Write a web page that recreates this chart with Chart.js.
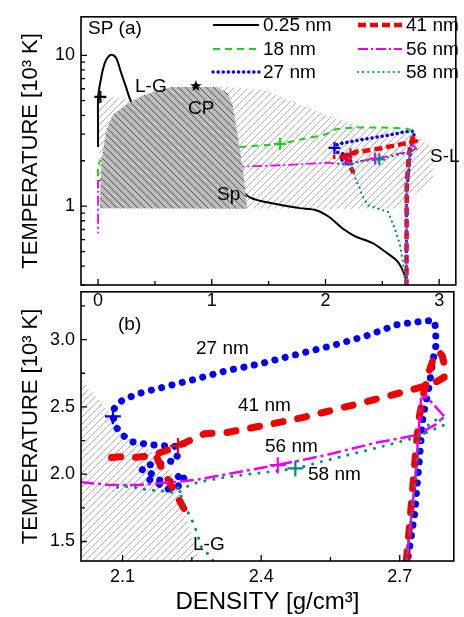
<!DOCTYPE html>
<html>
<head>
<meta charset="utf-8">
<script src="https://cdn.jsdelivr.net/npm/chart.js@4.4.0/dist/chart.umd.min.js"></script>
<style>
  body { margin: 0; background: #fff; }
  #wrap { position: relative; width: 464px; height: 617px; }
  canvas { position: absolute; left: 0; }
  #topChart { top: 0; z-index: 2; }
  #bottomChart { top: 275px; z-index: 1; }
</style>
</head>
<body>
<div id="wrap">
  <canvas id="bottomChart" width="464" height="342"></canvas>
  <canvas id="topChart" width="464" height="320"></canvas>
</div>
<script>
// [density g/cm3, temperature 10^3 K]
const nm025 = [[0,2.47],[0,3.48],[0,5.18],[0.015,6.31],[0.043,8.09],[0.073,9.38],[0.116,10.1],[0.159,9.6],[0.202,7.69],[0.246,6.15],[0.274,5.3],[0.303,4.81],[0.6,3.6],[1.0,2.2],[1.312,1.17],[1.485,1.06],[1.771,0.97],[1.918,0.94],[2.03,0.85],[2.151,0.71],[2.262,0.63],[2.411,0.57],[2.523,0.5],[2.627,0.435],[2.679,0.375],[2.714,0.314],[2.72,0.29]];
const nm18 = [[2.712,0.29],[2.718,0.6],[2.722,1.06],[2.731,1.74],[2.742,2.5],[2.754,3.15],[2.72,3.26],[2.668,3.28],[2.495,3.32],[2.264,3.32],[2.091,3.23],[2.004,3.0],[1.803,2.79],[1.598,2.59],[1.226,2.46],[0.6,2.2],[0.06,2.0],[0.02,2.0],[0,1.84],[0,1.29]];
const nm27 = [[2.712,0.29],[2.713,1.35],[2.718,1.38],[2.732,1.7],[2.743,2.13],[2.75,2.42],[2.764,2.66],[2.771,2.83],[2.778,2.95],[2.778,3.07],[2.775,3.14],[2.757,3.14],[2.693,3.11],[2.63,3.03],[2.559,2.96],[2.489,2.9],[2.397,2.82],[2.326,2.77],[2.262,2.71],[2.192,2.65],[2.135,2.6],[2.1,2.55],[2.086,2.51],[2.079,2.47],[2.079,2.43],[2.086,2.35],[2.1,2.29],[2.121,2.24],[2.157,2.22],[2.192,2.21],[2.213,2.21],[2.22,2.15],[2.213,2.09],[2.199,2.1],[2.178,2.07],[2.15,2.07],[2.142,2.03],[2.16,2.01],[2.178,1.96],[2.192,1.94],[2.213,1.95],[2.227,2.01],[2.234,1.96],[2.22,1.91],[2.206,1.89],[2.192,1.89],[2.174,1.94],[2.157,1.96],[2.142,1.95]];
const nm41 = [[2.712,0.29],[2.714,1.35],[2.722,1.65],[2.729,1.94],[2.736,2.23],[2.743,2.44],[2.753,2.62],[2.764,2.77],[2.775,2.88],[2.785,2.91],[2.792,2.88],[2.798,2.79],[2.796,2.72],[2.771,2.67],[2.739,2.64],[2.707,2.61],[2.63,2.54],[2.559,2.48],[2.489,2.42],[2.418,2.37],[2.326,2.31],[2.277,2.3],[2.22,2.21],[2.19,2.17],[2.16,2.135],[2.13,2.125],[2.1,2.13],[2.065,2.12]];
const nm41Tail = [[2.175,2.12],[2.185,2.04],[2.2,1.95],[2.214,1.86],[2.224,1.8],[2.237,1.72],[2.248,1.66]];
const nm56 = [[2.712,0.29],[2.714,1.35],[2.724,1.65],[2.733,1.94],[2.739,2.23],[2.746,2.56],[2.757,2.58],[2.796,2.43],[2.778,2.37],[2.736,2.29],[2.644,2.23],[2.538,2.14],[2.467,2.09],[2.436,2.07],[2.326,2.0],[2.262,1.96],[2.206,1.94],[2.135,1.92],[2.072,1.92],[2.012,1.94],[1.63,1.87],[1.271,1.83],[0.6,1.65],[0.04,1.5],[0,1.47],[0,0.66]];
const nm58 = [[2.712,0.29],[2.714,1.35],[2.724,1.65],[2.733,1.94],[2.74,2.2],[2.76,2.36],[2.79,2.43],[2.799,2.37],[2.722,2.26],[2.644,2.19],[2.538,2.1],[2.474,2.04],[2.397,2.01],[2.326,1.98],[2.262,1.94],[2.241,1.91],[2.22,1.86],[2.185,1.875],[2.15,1.886],[2.114,1.91],[2.083,1.9]];
const nm58Tail = [[2.22,1.9],[2.234,1.77],[2.252,1.645],[2.259,1.585],[2.266,1.51],[2.271,1.45],[2.291,1.39],[2.32,1.18],[2.377,1.01],[2.463,0.96],[2.55,0.915],[2.61,0.71],[2.653,0.56],[2.68,0.435],[2.7,0.32],[2.705,0.29]];
// "+" marks, in series order 0.25, 18, 27, 41, 56, 58 nm
const crosses = [[0.02,5.3],[1.6,2.59],[2.079,2.43],[2.22,2.21],[2.436,2.067],[2.474,2.043]];
const critPoint = [[0.86,6.25]];
// spinodal dome and hatched regions
const spinodal = [[0.015,0.97],[0.03,2.0],[0.07,3.14],[0.13,4.04],[0.245,4.7],[0.39,5.4],[0.53,5.85],[0.65,6.16],[1.05,6.16],[1.14,5.6],[1.183,4.69],[1.226,3.0],[1.278,1.66],[1.312,0.96]];
const hatchTop = [[0.01,0.96],[0.01,5.2],[0.15,5.3],[0.3,5.0],[0.5,6.0],[1.1,6.2],[1.46,5.86],[2.0,4.04],[2.3,3.4],[2.75,3.1],[2.95,2.4],[2.95,1.5],[2.62,0.96]];
const hatchBottom = [[2.0,2.75],[2.078,2.43],[2.1,2.3],[2.15,2.2],[2.2,2.05],[2.225,1.85],[2.245,1.6],[2.27,1.3],[2.0,1.3]];

// axis ticks
const xTicksTop = [0, 1, 2, 3];
const xMinorTop = [0.5, 1.5, 2.5];
const yTicksTop = [1, 10];
const yMinorTop = [0.3, 0.4, 0.5, 0.6, 0.7, 0.8, 0.9, 2, 3, 4, 5, 6, 7, 8, 9];
const xTicksBottom = [2.1, 2.4, 2.7];
const xMinorBottom = [2.25, 2.55];
const yTicksBottom = [1.5, 2.0, 2.5, 3.0];
const yMinorBottom = [1.75, 2.25, 2.75, 3.25];

const FONT = '"Liberation Sans", Arial, Helvetica, sans-serif';
Chart.defaults.font.family = FONT;
Chart.defaults.color = '#000';

const COLORS = { nm025: '#000000', nm18: '#22cc22', nm27: '#0000ee', nm41: '#ee0000', nm56: '#ee00ee', nm58: '#008b8b' };
const STYLE = {
  top: {
    nm025: { w: 2, dash: [], t: 0.3 },
    nm18: { w: 2, dash: [7, 5], t: 0.2 },
    nm27: { w: 3.5, dash: [0.1, 5], cap: 'round' },
    nm41: { w: 4.5, dash: [8, 4] },
    nm56: { w: 1.8, dash: [10, 3, 2, 3] },
    nm58: { w: 2.2, dash: [0.1, 5], cap: 'round' }
  },
  bottom: {
    nm27: { w: 7, dash: [0.1, 10.5], cap: 'round' },
    nm41: { w: 7, dash: [9, 15], cap: 'round' },
    nm56: { w: 2.5, dash: [14, 4, 3, 4] },
    nm58: { w: 3, dash: [0.1, 9], cap: 'round' }
  }
};

function pts(arr) { return arr.map(([x, y]) => ({ x, y })); }

function lineSet(label, data, key, panel, order) {
  const s = STYLE[panel][key];
  return {
    label, data: pts(data), showLine: true, pointRadius: 0, pointHoverRadius: 0,
    borderColor: COLORS[key], borderWidth: s.w, borderDash: s.dash,
    borderCapStyle: s.cap || 'butt', tension: s.t || 0, fill: false, clip: 0, order
  };
}

function areaSet(data, pattern, order) {
  return {
    data: pts(data), showLine: true, pointRadius: 0, borderWidth: 0,
    borderColor: 'rgba(0,0,0,0)', backgroundColor: pattern, fill: 'shape', clip: 0, order
  };
}

function hatch(bg, fg, step, up) {
  const c = document.createElement('canvas');
  c.width = c.height = step;
  const g = c.getContext('2d');
  if (bg) { g.fillStyle = bg; g.fillRect(0, 0, step, step); }
  g.strokeStyle = fg;
  g.lineWidth = 1;
  g.beginPath();
  if (up) {
    g.moveTo(-1, step + 1); g.lineTo(step + 1, -1);
    g.moveTo(-1, 1); g.lineTo(1, -1);
    g.moveTo(step - 1, step + 1); g.lineTo(step + 1, step - 1);
  } else {
    g.moveTo(-1, -1); g.lineTo(step + 1, step + 1);
    g.moveTo(step - 1, -1); g.lineTo(step + 1, 1);
    g.moveTo(-1, step - 1); g.lineTo(1, step + 1);
  }
  g.stroke();
  return g.createPattern(c, 'repeat');
}

function starImage(r) {
  const c = document.createElement('canvas');
  c.width = c.height = 2 * r + 2;
  const g = c.getContext('2d');
  g.fillStyle = '#000';
  g.beginPath();
  for (let i = 0; i < 10; i++) {
    const rr = i % 2 ? r * 0.42 : r;
    const a = -Math.PI / 2 + i * Math.PI / 5;
    g.lineTo(r + 1 + rr * Math.cos(a), r + 1 + rr * Math.sin(a));
  }
  g.closePath();
  g.fill();
  return c;
}

const crossColors = [COLORS.nm025, COLORS.nm18, COLORS.nm27, COLORS.nm41, COLORS.nm56, COLORS.nm58];
function crossSet(r) {
  return {
    data: pts(crosses), showLine: false, pointStyle: 'cross', pointRadius: r,
    pointBorderWidth: 2.2, pointBorderColor: crossColors, clip: 0, order: 0
  };
}

// frame, inward ticks, labels and legend
const framePlugin = {
  id: 'frame',
  afterDraw(chart, _args, o) {
    const { ctx, chartArea: a } = chart;
    const sx = chart.scales.x, sy = chart.scales.y;
    ctx.save();
    ctx.strokeStyle = '#000';
    ctx.lineWidth = 1.6;
    ctx.strokeRect(a.left, a.top, a.right - a.left, a.bottom - a.top);
    ctx.lineWidth = 1.3;
    ctx.beginPath();
    const xt = (vals, len) => vals.forEach(v => {
      const p = sx.getPixelForValue(v);
      ctx.moveTo(p, a.bottom); ctx.lineTo(p, a.bottom - len);
    });
    const yt = (vals, len) => vals.forEach(v => {
      const p = sy.getPixelForValue(v);
      ctx.moveTo(a.left, p); ctx.lineTo(a.left + len, p);
    });
    xt(o.xMajor, 6); xt(o.xMinor, 4); yt(o.yMajor, 6); yt(o.yMinor, 4);
    ctx.stroke();

    ctx.fillStyle = '#000';
    ctx.textBaseline = 'middle';
    ctx.textAlign = 'left';
    ctx.font = '19px ' + FONT;
    (o.notes || []).forEach(n => ctx.fillText(n.text, n.x, n.y));

    (o.legend || []).forEach(e => {
      const ds = chart.data.datasets.find(d => d.label === e.label);
      ctx.save();
      ctx.strokeStyle = ds.borderColor;
      ctx.lineWidth = ds.borderWidth;
      ctx.setLineDash(ds.borderDash);
      ctx.lineCap = ds.borderCapStyle;
      ctx.beginPath();
      ctx.moveTo(e.x0, e.y); ctx.lineTo(e.x1, e.y);
      ctx.stroke();
      ctx.restore();
      ctx.fillText(e.label, e.x1 + 4, e.y + 1);
    });
    ctx.restore();
  }
};

const yTitle = { display: true, text: 'TEMPERATURE [10³ K]', font: { size: 22 }, padding: { top: 18, bottom: 0 } };

// ---- top panel (a) ----
new Chart(document.getElementById('topChart'), {
  type: 'scatter',
  data: {
    datasets: [
      crossSet(6),
      { data: pts(critPoint), showLine: false, pointStyle: starImage(6), pointRadius: 6, clip: 0, order: 0 },
      areaSet(spinodal, hatch('#bdbdbd', '#555555', 7, false), 1),
      lineSet('0.25 nm', nm025, 'nm025', 'top', 5),
      lineSet('18 nm', nm18, 'nm18', 'top', 5),
      lineSet('27 nm', nm27, 'nm27', 'top', 5),
      lineSet('41 nm', nm41, 'nm41', 'top', 4),
      lineSet('41 nm tail', nm41Tail, 'nm41', 'top', 4),
      lineSet('56 nm', nm56, 'nm56', 'top', 3),
      lineSet('58 nm', nm58, 'nm58', 'top', 2),
      lineSet('58 nm tail', nm58Tail, 'nm58', 'top', 2),
      areaSet(hatchTop, hatch(null, '#b0b0b0', 7, true), 10)
    ]
  },
  options: {
    responsive: false,
    animation: false,
    layout: { padding: { left: 0, right: 2, top: 9, bottom: 0 } },
    scales: {
      x: {
        type: 'linear', min: -0.15, max: 3.146,
        grid: { display: false, drawTicks: false }, border: { display: false },
        ticks: { padding: 5, font: { size: 18 }, maxRotation: 0, callback: v => String(v) },
        afterBuildTicks: s => { s.ticks = xTicksTop.map(v => ({ value: v })); },
        afterFit: s => { s.height = 35; }
      },
      y: {
        type: 'logarithmic', min: 0.3, max: 18,
        grid: { display: false, drawTicks: false }, border: { display: false },
        ticks: { padding: 6, font: { size: 18 }, callback: v => String(v) },
        afterBuildTicks: s => { s.ticks = yTicksTop.map(v => ({ value: v })); },
        afterFit: s => { s.width = 81; },
        title: yTitle
      }
    },
    plugins: {
      legend: { display: false },
      tooltip: { enabled: false },
      frame: {
        xMajor: xTicksTop, xMinor: xMinorTop, yMajor: yTicksTop, yMinor: yMinorTop,
        notes: [
          { text: 'SP (a)', x: 88, y: 29 },
          { text: 'L-G', x: 135, y: 87 },
          { text: 'CP', x: 188, y: 109 },
          { text: 'Sp', x: 217, y: 195 },
          { text: 'S-L', x: 430, y: 157 }
        ],
        legend: [
          { label: '0.25 nm', x0: 213, x1: 259, y: 25 },
          { label: '18 nm', x0: 213, x1: 259, y: 49 },
          { label: '27 nm', x0: 213, x1: 259, y: 72 },
          { label: '41 nm', x0: 358, x1: 402, y: 25 },
          { label: '56 nm', x0: 358, x1: 402, y: 49 },
          { label: '58 nm', x0: 358, x1: 402, y: 72 }
        ]
      }
    }
  },
  plugins: [framePlugin]
});

// ---- bottom panel (b) ----
new Chart(document.getElementById('bottomChart'), {
  type: 'scatter',
  data: {
    datasets: [
      crossSet(8),
      lineSet('27 nm', nm27, 'nm27', 'bottom', 5),
      lineSet('41 nm', nm41, 'nm41', 'bottom', 4),
      lineSet('41 nm tail', nm41Tail, 'nm41', 'bottom', 4),
      lineSet('56 nm', nm56, 'nm56', 'bottom', 3),
      lineSet('58 nm', nm58, 'nm58', 'bottom', 2),
      lineSet('58 nm tail', nm58Tail, 'nm58', 'bottom', 2),
      areaSet(hatchBottom, hatch(null, '#b0b0b0', 7, true), 10)
    ]
  },
  options: {
    responsive: false,
    animation: false,
    layout: { padding: { left: 0, right: 2, top: 10, bottom: 0 } },
    scales: {
      x: {
        type: 'linear', min: 2.01, max: 2.817,
        grid: { display: false, drawTicks: false }, border: { display: false },
        ticks: { padding: 5, font: { size: 18 }, maxRotation: 0, callback: v => v.toFixed(1) },
        afterBuildTicks: s => { s.ticks = xTicksBottom.map(v => ({ value: v })); },
        afterFit: s => { s.height = 56; },
        title: { display: true, text: 'DENSITY [g/cm³]', font: { size: 24 }, padding: { top: 0, bottom: 0 } }
      },
      y: {
        type: 'linear', min: 1.355, max: 3.355,
        grid: { display: false, drawTicks: false }, border: { display: false },
        ticks: { padding: 6, font: { size: 18 }, callback: v => v.toFixed(1) },
        afterBuildTicks: s => { s.ticks = yTicksBottom.map(v => ({ value: v })); },
        afterFit: s => { s.width = 81; },
        title: yTitle
      }
    },
    plugins: {
      legend: { display: false },
      tooltip: { enabled: false },
      frame: {
        xMajor: xTicksBottom, xMinor: xMinorBottom, yMajor: yTicksBottom, yMinor: yMinorBottom,
        notes: [
          { text: '(b)', x: 118, y: 50 },
          { text: '27 nm', x: 196, y: 74 },
          { text: '41 nm', x: 238, y: 131 },
          { text: '56 nm', x: 265, y: 172 },
          { text: '58 nm', x: 308, y: 200 },
          { text: 'L-G', x: 193, y: 270 }
        ]
      }
    }
  },
  plugins: [framePlugin]
});
</script>
</body>
</html>
